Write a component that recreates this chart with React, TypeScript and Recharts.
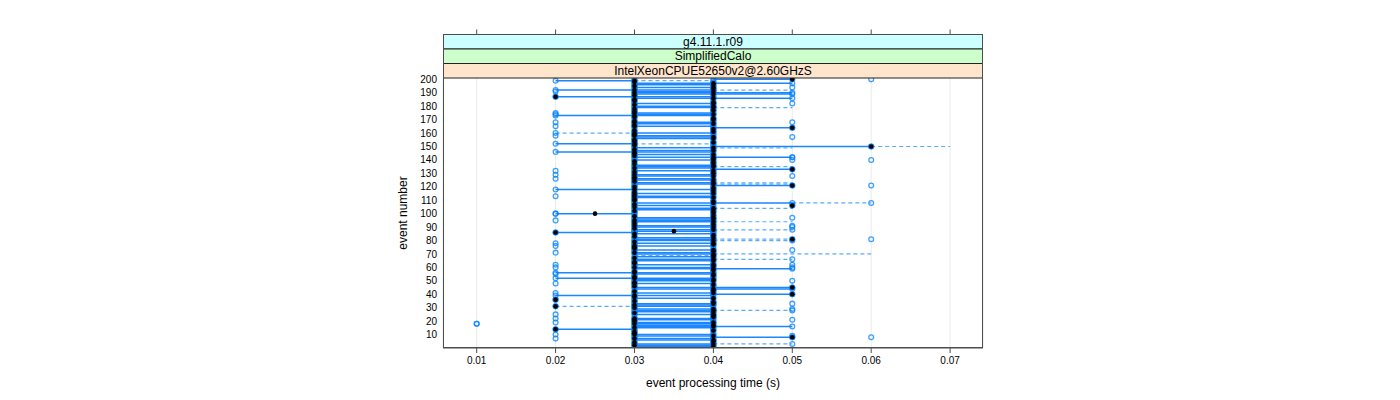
import React from 'react';
import { ComposedChart, Scatter, XAxis, YAxis, CartesianGrid, ReferenceLine } from 'recharts';

// observed processing times per event (event 1 first), each digit is a run in units of 10 ms
const observations = [
  '344', '334', '3445', '334', '44', '344', '2334', '34556', '3445', '2334',
  '334', '33', '344', '2234', '334', '3445', '344', '11334', '2344', '334',
  '3345', '2334', '344', '44', '2344', '334', '344', '3445', '3445', '33',
  '22334', '334', '3445', '344', '334', '223', '344', '33', '2334', '3455',
  '2344', '334', '44', '3445', '3455', '334', '344', '2334', '33', '3445',
  '344', '2334', '334', '344', '2344', '2334', '334', '44', '3445', '23345',
  '344', '23445', '334', '33', '344', '3445', '334', '344', '44', '344',
  '2334', '344', '3445', '334', '33', '2334', '344', '2344', '334', '3445',
  '34556', '344', '334', '44', '334', '22334', '3344', '3445', '334', '3445',
  '3345', '344', '33', '344', '2334', '344', '3445', '334', '44', '2233',
  '344', '334', '344', '344', '334', '3455', '33', '34456', '344', '334',
  '33', '344', '2334', '334', '344', '334', '44', '2334', '344', '334',
  '34556', '344', '344', '334', '344', '2334', '33', '3445', '2334', '344',
  '334', '2344', '3455', '334', '344', '344', '334', '44', '334', '3456',
  '344', '34455', '334', '344', '33', '2334', '344', '334', '344', '3466',
  '334', '2334', '344', '334', '33', '344', '3445', '2334', '334', '2334',
  '344', '334', '44', '3455', '2334', '334', '344', '23345', '334', '44',
  '344', '33', '2334', '2344', '2334', '334', '344', '334', '344', '344',
  '334', '3445', '344', '33', '334', '3445', '22334', '334', '3445', '3345',
  '2344', '2334', '344', '3445', '334', '344', '3445', '334', '2334', '3456',
];

// median per event, units of 10 ms
const medians = [
  4, 3, 4, 3, 4, 4, 3, 5, 4, 3,
  3, 3, 4, 2, 3, 4, 4, 3, 4, 3,
  3, 3, 4, 4, 4, 3, 4, 4, 4, 3,
  2, 3, 4, 4, 3, 2, 4, 3, 3, 5,
  4, 3, 4, 4, 5, 3, 4, 3, 3, 4,
  4, 3, 3, 4, 4, 3, 3, 4, 4, 3,
  4, 4, 3, 3, 4, 4, 3, 4, 4, 4,
  3, 4, 4, 3, 3, 3, 4, 4, 3, 4,
  5, 4, 3, 4, 3, 2, 3.5, 4, 3, 4,
  3, 4, 3, 4, 3, 4, 4, 3, 4, 2.5,
  4, 3, 4, 4, 3, 5, 3, 4, 4, 3,
  3, 4, 3, 3, 4, 3, 4, 3, 4, 3,
  5, 4, 4, 3, 4, 3, 3, 4, 3, 4,
  3, 4, 5, 3, 4, 4, 3, 4, 3, 4,
  4, 4, 3, 4, 3, 3, 4, 3, 4, 6,
  3, 3, 4, 3, 3, 4, 4, 3, 3, 3,
  4, 3, 4, 5, 3, 3, 4, 3, 3, 4,
  4, 3, 3, 4, 3, 3, 4, 3, 4, 4,
  3, 4, 4, 3, 3, 4, 2, 3, 4, 3,
  4, 3, 4, 4, 3, 4, 4, 3, 3, 5,
];

// solid range per event ("34" = 0.03 to 0.04), empty when none
const solidRanges = [
  '34', '34', '34', '', '', '34', '34', '45', '34', '34',
  '', '', '', '23', '34', '35', '34', '34', '34', '',
  '34', '34', '', '', '34', '', '34', '34', '34', '',
  '34', '34', '34', '', '', '', '34', '', '24', '45',
  '34', '', '', '35', '35', '', '', '34', '', '34',
  '34', '24', '', '', '34', '24', '', '', '35', '34',
  '', '34', '', '', '34', '34', '', '34', '', '34',
  '34', '', '34', '', '', '34', '', '34', '', '34',
  '34', '34', '', '', '34', '23', '34', '34', '', '34',
  '34', '', '', '34', '34', '34', '34', '', '', '23',
  '', '', '34', '34', '', '34', '', '35', '', '',
  '', '34', '34', '', '34', '', '', '24', '', '',
  '45', '34', '34', '', '34', '34', '', '34', '34', '',
  '', '34', '45', '34', '34', '34', '', '', '', '34',
  '', '35', '', '34', '', '24', '34', '', '34', '46',
  '', '23', '', '', '', '34', '34', '34', '', '34',
  '', '', '', '45', '34', '', '34', '34', '', '',
  '', '', '24', '34', '34', '', '', '', '34', '34',
  '', '34', '', '', '', '35', '24', '', '35', '35',
  '34', '24', '', '34', '', '34', '35', '', '23', '45',
];

// dashed ranges, only for the events listed
const dashedEvents = [3, 28, 31, 66, 69, 70, 80, 81, 88, 94, 104, 108, 122, 123, 135, 149, 150, 152, 160, 179, 192, 199];
const dashedRanges = ['45', '45', '23', '45', '34', '46', '45', '45', '45', '45', '45', '56', '45', '45', '45', '45', '67', '34', '23', '45', '45', '34'];

const xTicks = [0.01, 0.02, 0.03, 0.04, 0.05, 0.06, 0.07];
const yTicks = [10, 20, 30, 40, 50, 60, 70, 80, 90, 100, 110, 120, 130, 140, 150, 160, 170, 180, 190, 200];
const stripLabels = ['g4.11.1.r09', 'SimplifiedCalo', 'IntelXeonCPUE52650v2@2.60GHzS'];
const stripColors = ['#ccffff', '#ccffcc', '#ffe5cc'];

const X_DOMAIN = [0.00573, 0.07417];
const PLOT = { left: 443, top: 78, width: 540, height: 270 };

const obsPoints = observations.flatMap((s, i) => s.split('').map(d => ({ x: Number(d) / 100, y: i + 1 })));
const medianPoints = medians.map((m, i) => ({ x: m / 100, y: i + 1 }));
const solidSegs = solidRanges.map((r, i) => ({ r, y: i + 1 })).filter(s => s.r !== '');
const dashedSegs = dashedEvents.map((e, i) => ({ r: dashedRanges[i], y: e }));

const OpenCircle = (props: any) => {
  const { cx, cy } = props;
  if (cx == null || cy == null) return null;
  return <circle cx={cx} cy={cy} r={2.4} fill="none" stroke="#0080ff" strokeOpacity={0.75} strokeWidth={1.3} />;
};

const BlackDot = (props: any) => {
  const { cx, cy } = props;
  if (cx == null || cy == null) return null;
  return <circle cx={cx} cy={cy} r={2.3} fill="#000" />;
};

const xPix = (v: number) => PLOT.left + ((v - X_DOMAIN[0]) / (X_DOMAIN[1] - X_DOMAIN[0])) * PLOT.width;

const App: React.FC = () => {
  const stripH = 14.5;
  const stripTop = PLOT.top - stripH * 3;
  return <div style={{ position: 'absolute', left: 0, top: 0, width: 1400, height: 400, fontFamily: '"Liberation Sans", Arial, sans-serif', background: '#fff' }}>
      <ComposedChart width={1400} height={400} margin={{ top: 78, right: 417, bottom: 22, left: 383 }}>
        <CartesianGrid horizontal={false} stroke="#ebebeb" />
        <XAxis type="number" dataKey="x" domain={X_DOMAIN} ticks={xTicks} interval={0} allowDataOverflow height={30} tickSize={5} tickMargin={4} stroke="#4d4d4d" tick={{ fill: '#000', fontSize: 10 }} tickFormatter={(v: number) => v.toFixed(2)} />
        <YAxis type="number" dataKey="y" domain={[0, 201]} ticks={yTicks} interval={0} allowDataOverflow width={60} axisLine={false} tickLine={false} tickSize={0} tickMargin={6} tick={{ fill: '#000', fontSize: 10 }} />
        {solidSegs.map((s, i) => <ReferenceLine key={`s-${i}`} segment={[{ x: Number(s.r[0]) / 100, y: s.y }, { x: Number(s.r[1]) / 100, y: s.y }]} stroke="#1a86ff" strokeWidth={1.5} />)}
        {dashedSegs.map((s, i) => <ReferenceLine key={`d-${i}`} segment={[{ x: Number(s.r[0]) / 100, y: s.y }, { x: Number(s.r[1]) / 100, y: s.y }]} stroke="#5aaaff" strokeWidth={1.2} strokeDasharray="4 3" />)}
        <Scatter data={obsPoints} shape={OpenCircle} isAnimationActive={false} />
        <Scatter data={medianPoints} shape={BlackDot} isAnimationActive={false} />
      </ComposedChart>
      <svg width={1400} height={400} style={{ position: 'absolute', left: 0, top: 0, pointerEvents: 'none' }}>
        {xTicks.map(t => <line key={t} x1={xPix(t)} x2={xPix(t)} y1={stripTop - 5} y2={stripTop} stroke="#4d4d4d" />)}
        {stripLabels.map((label, i) => <g key={label}>
            <rect x={PLOT.left + 0.5} y={stripTop + i * stripH} width={PLOT.width - 1} height={stripH} fill={stripColors[i]} stroke="#222" strokeWidth={1} />
            <text x={PLOT.left + PLOT.width / 2} y={stripTop + i * stripH + stripH / 2 + 4} textAnchor="middle" fontSize={12} fill="#000">{label}</text>
          </g>)}
        <rect x={PLOT.left + 0.5} y={stripTop} width={PLOT.width - 1} height={PLOT.top + PLOT.height - stripTop - 0.5} fill="none" stroke="#4d4d4d" />
        <text x={PLOT.left + PLOT.width / 2} y={387} textAnchor="middle" fontSize={12} fill="#000">event processing time (s)</text>
        <text transform={`translate(407, ${PLOT.top + PLOT.height / 2}) rotate(-90)`} textAnchor="middle" fontSize={12} fill="#000">event number</text>
      </svg>
    </div>;
};

export default App;
